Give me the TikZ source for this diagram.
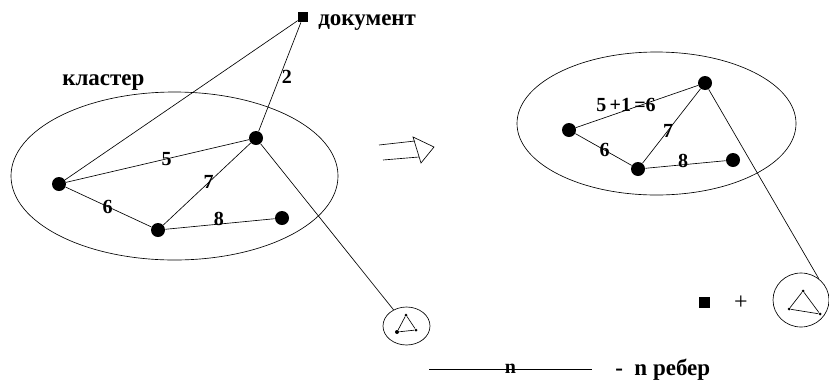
\documentclass[tikz,border=0pt]{standalone}
\usepackage{fontspec}
\setmainfont{Liberation Serif}
\usetikzlibrary{shapes.geometric}

\begin{document}
\begin{tikzpicture}[x=1pt, y=-1pt, line width=0.65pt,
  vx/.style={circle, fill=black, minimum size=14pt, inner sep=0pt},
  dot/.style={circle, fill=black, minimum size=3pt, inner sep=0pt},
  docsq/.style={rectangle, fill=black, minimum size=10pt, inner sep=0pt},
  clust/.style={ellipse, draw, inner sep=0pt},
  wlbl/.style={font=\fontsize{23}{25}\selectfont\bfseries, inner sep=0pt},
  nlbl/.style={font=\fontsize{20}{22}\selectfont\bfseries, inner sep=1pt}]
  \useasboundingbox (0,0) rectangle (829,381);

  % left cluster
  \node[clust, minimum width=327pt, minimum height=168pt] (clL) at (174.5,176) {};
  \node[wlbl, anchor=base west] (clLbl) at (62,85) {кластер};
  \node[docsq] (doc) at (303,17) {};
  \node[wlbl, anchor=base west] (docLbl) at (318,25) {документ};
  \node[vx] (a) at (59,184) {};
  \node[vx] (b) at (256,138) {};
  \node[vx] (c) at (158,230) {};
  \node[vx] (d) at (282,218) {};
  \draw (a) -- (doc);
  \draw (b) -- node[nlbl, xshift=7pt] {2} (doc);
  \draw (a) -- node[nlbl, pos=.55] {5} (b);
  \draw (a) -- node[nlbl, pos=.49] {6} (c);
  \draw (c) -- node[nlbl, pos=.52] {7} (b);
  \draw (c) -- node[nlbl, pos=.49, yshift=5pt] {8} (d);

  % small graph
  \node[clust, minimum width=47pt, minimum height=38pt] (smL) at (406.5,326) {};
  \node[dot] (t1) at (406,315) {};
  \node[dot, minimum size=4pt] (t2) at (397,332) {};
  \node[dot] (t3) at (416,330) {};
  \draw (t1) -- (t2) -- (t3) -- (t1);
  \draw (b) -- (smL);

  % arrow
  \draw (379,145) -- (415,141);
  \draw (383,160) -- (419,157);
  \draw (413,137) -- (434,147) -- (421,163) -- cycle;

  % right cluster
  \node[clust, minimum width=279pt, minimum height=143pt] (clR) at (656.5,123.5) {};
  \node[vx] (p) at (569,130) {};
  \node[vx] (q) at (705,83) {};
  \node[vx] (r) at (638,169) {};
  \node[vx] (s) at (733,160) {};
  \draw (p) -- node[nlbl, pos=.41, yshift=5pt] {5\,+1\,=6} (q);
  \draw (p) -- node[nlbl, pos=.52] {6} (r);
  \draw (r) -- node[nlbl, pos=.44] {7} (q);
  \draw (r) -- node[nlbl, pos=.47, yshift=4pt] {8} (s);

  \node[docsq, minimum size=11pt] (sq) at (704,302) {};
  \node[font=\fontsize{24}{26}\selectfont] (plus) at (741,303) {+};
  \node[clust, minimum width=56pt, minimum height=54pt] (smR) at (801,300) {};
  \node[dot] (u1) at (803,291) {};
  \node[dot] (u2) at (789,309) {};
  \node[dot] (u3) at (820,314) {};
  \draw (u1) -- (u2) -- (u3) -- (u1);
  \draw (q) -- (smR.50);

  % legend
  \coordinate (legA) at (429,369);
  \coordinate (legB) at (592,369);
  \draw (legA) -- node[nlbl, inner sep=0pt] {n} (legB);
  \node[wlbl, anchor=base west] (legLbl) at (615,375) {-\ \ n ребер};
\end{tikzpicture}
\end{document}
